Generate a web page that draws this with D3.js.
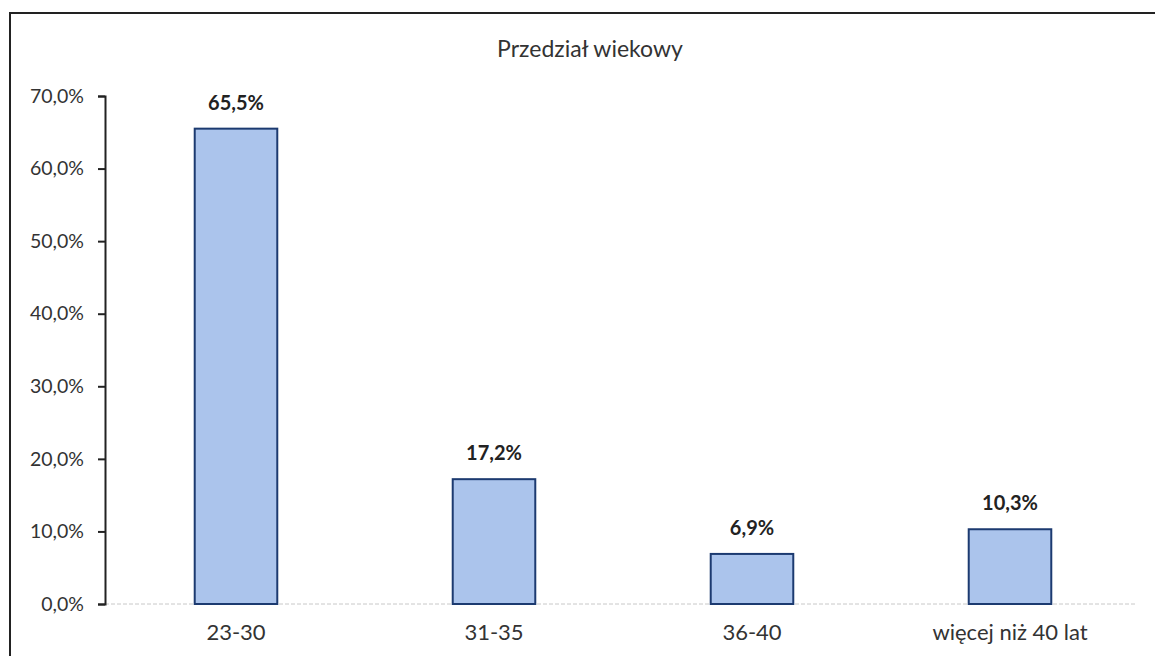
<!DOCTYPE html>
<html>
<head>
<meta charset="utf-8">
<script src="https://cdn.jsdelivr.net/npm/d3@7"></script>
<style>
  body { margin: 0; background: #fff; }
  svg { display: block; font-family: Lato, "Open Sans", sans-serif; }
</style>
</head>
<body>
<svg id="chart" width="1155" height="656"></svg>
<script>
var categories = ["23-30", "31-35", "36-40", "więcej niż 40 lat"];
var values = [65.5, 17.2, 6.9, 10.3];
var yTicks = [0, 10, 20, 30, 40, 50, 60, 70];

var svg = d3.select("#chart");

// outer frame (only top and left visible in the scan)
svg.append("rect").attr("x", 10).attr("y", 13).attr("width", 1160).attr("height", 660)
  .attr("fill", "none").attr("stroke", "#222").attr("stroke-width", 2);

var fmt = function(d) { return d.toFixed(1).replace(".", ",") + "%"; };

var x = d3.scaleBand().domain(categories).range([107, 1139]).paddingInner(0.68).paddingOuter(0.34);
var y = d3.scaleLinear().domain([0, 70]).range([604, 96]);

// baseline
svg.append("line").attr("x1", 105).attr("x2", 1135).attr("y1", y(0)).attr("y2", y(0))
  .attr("stroke", "#c8c8c8").attr("stroke-width", 1).attr("stroke-dasharray", "4,2");

var yAxis = svg.append("g").attr("transform", "translate(105,0)")
  .call(d3.axisLeft(y).tickValues(yTicks).tickFormat(fmt).tickSize(7).tickPadding(14));
yAxis.select(".domain").attr("stroke", "#222").attr("stroke-width", 2);
yAxis.selectAll(".tick line").attr("stroke", "#222").attr("stroke-width", 2);
yAxis.selectAll("text").attr("font-size", 19.5).attr("fill", "#333").attr("font-family", "Lato, sans-serif");

svg.selectAll("rect.bar").data(values).enter().append("rect").attr("class", "bar")
  .attr("x", function(d, i) { return x(categories[i]); })
  .attr("y", function(d) { return y(d); })
  .attr("width", x.bandwidth())
  .attr("height", function(d) { return y(0) - y(d); })
  .attr("fill", "#abc4ec").attr("stroke", "#1c3a70").attr("stroke-width", 2);

svg.selectAll("text.val").data(values).enter().append("text").attr("class", "val")
  .attr("x", function(d, i) { return x(categories[i]) + x.bandwidth() / 2; })
  .attr("y", function(d) { return y(d) - 19; })
  .attr("text-anchor", "middle").attr("font-size", 20).attr("font-weight", "bold").attr("fill", "#222")
  .text(fmt);

svg.selectAll("text.cat").data(categories).enter().append("text").attr("class", "cat")
  .attr("x", function(d) { return x(d) + x.bandwidth() / 2; })
  .attr("y", 640)
  .attr("text-anchor", "middle").attr("font-size", 22).attr("fill", "#333")
  .text(function(d) { return d; });

svg.append("text").attr("x", 590).attr("y", 57).attr("text-anchor", "middle")
  .attr("font-size", 23).attr("fill", "#333").text("Przedział wiekowy");
</script>
</body>
</html>
